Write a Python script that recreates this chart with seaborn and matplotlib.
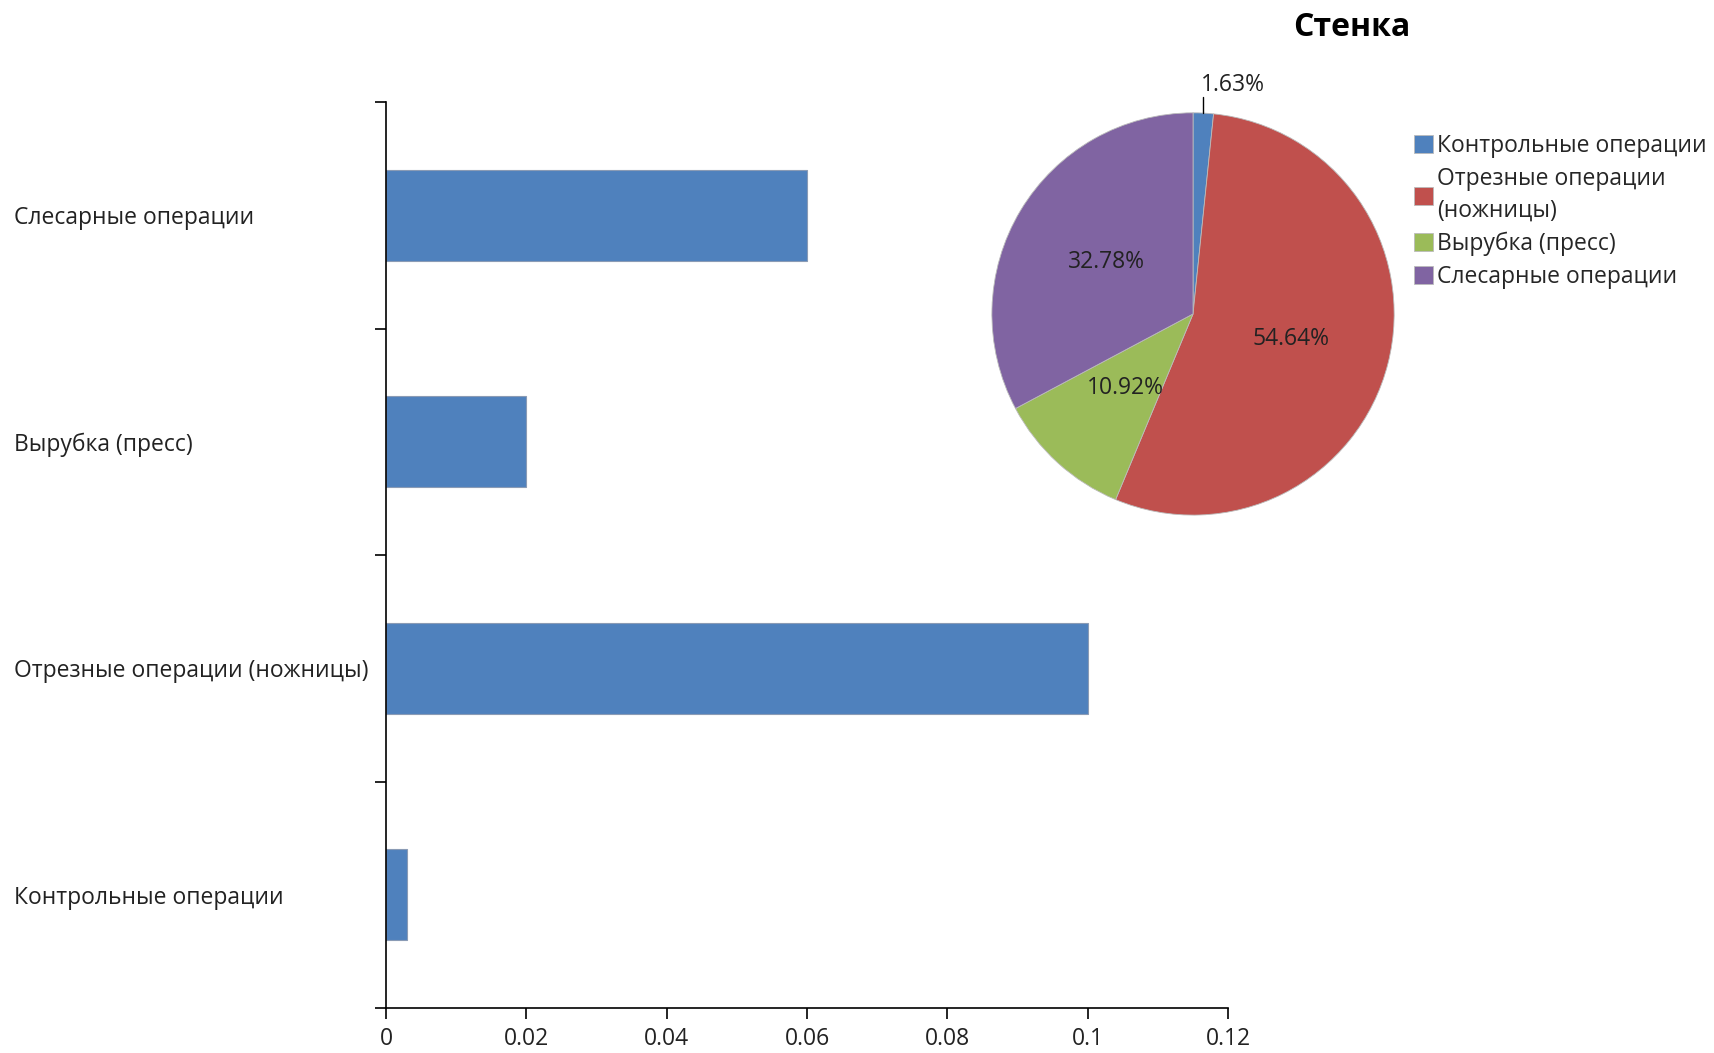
import matplotlib
matplotlib.use("Agg")
import matplotlib.pyplot as plt
import numpy as np
import pandas as pd
import seaborn as sns

# bar chart data (top to bottom)
bar_categories = ["Слесарные операции", "Вырубка (пресс)",
                  "Отрезные операции (ножницы)", "Контрольные операции"]
bar_values = [0.06, 0.02, 0.1, 0.003]
x_ticks = [0, 0.02, 0.04, 0.06, 0.08, 0.1, 0.12]
x_tick_labels = ["0", "0.02", "0.04", "0.06", "0.08", "0.1", "0.12"]

# pie data (clockwise from top)
pie_labels = ["Контрольные операции", "Отрезные операции\n(ножницы)",
              "Вырубка (пресс)", "Слесарные операции"]
pie_shares = [1.63, 54.64, 10.92, 32.78]
pie_colors = ["#4F81BD", "#C0504D", "#9BBB59", "#8064A2"]
title = "Стенка"

sns.set_theme(style="white")
plt.rcParams["font.family"] = ["Open Sans", "DejaVu Sans"]
FS = 16.5

fig = plt.figure(figsize=(17.14, 10.53), dpi=100)
fig.patch.set_facecolor("white")

# ---- bar chart ----
ax = fig.add_axes([0.2252, 0.0427, 0.4913, 0.8604])
df = pd.DataFrame({"cat": bar_categories, "val": bar_values})
sns.barplot(data=df, x="val", y="cat", orient="h", order=bar_categories,
            color="#4F81BD", saturation=1, width=0.4,
            edgecolor="#8a9bb5", linewidth=0.8, ax=ax)
ax.set_xlim(0, 0.12)
ax.set_ylim(len(bar_categories) - 0.5, -0.5)
ax.set_xticks(x_ticks)
ax.set_xticklabels(x_tick_labels, fontsize=FS, color="#222222")
ax.set_yticks(np.arange(-0.5, len(bar_categories)), labels=[""] * (len(bar_categories) + 1))
ax.set_yticks(np.arange(len(bar_categories)), minor=True)
ax.set_yticklabels(bar_categories, minor=True, fontsize=FS, color="#222222", ha="left")
ax.tick_params(axis="y", which="minor", length=0, pad=(386 - 14) * 0.72)
ax.tick_params(axis="y", which="major", direction="out", length=8, width=1.2, color="black", left=True)
ax.tick_params(axis="x", direction="out", length=8, width=1.2, color="black", bottom=True, pad=6)
ax.set_xlabel("")
ax.set_ylabel("")
for s in ["top", "right"]:
    ax.spines[s].set_visible(False)
for s in ["left", "bottom"]:
    ax.spines[s].set_color("black")
    ax.spines[s].set_linewidth(1.2)

# ---- pie chart ----
pax = fig.add_axes([0.5435, 0.4535, 0.3051, 0.4967])
wedges, _ = pax.pie(pie_shares, colors=pie_colors, startangle=90, counterclock=False,
                    wedgeprops=dict(edgecolor="#bbbbbb", linewidth=0.6))
pax.set_xlim(-1.3, 1.3)
pax.set_ylim(-1.3, 1.3)
pax.set_aspect("equal")
pax.axis("off")
for w, share in zip(wedges, pie_shares):
    ang = np.deg2rad((w.theta1 + w.theta2) / 2)
    txt = f"{share:.2f}%"
    if share < 5:
        x0, y0 = np.cos(ang), np.sin(ang)
        pax.plot([x0, x0], [y0, y0 + 0.08], color="black", lw=1)
        pax.text(x0 - 0.01, y0 + 0.14, txt, fontsize=FS, ha="left", va="center", color="#222222")
    else:
        pax.text(0.5 * np.cos(ang), 0.5 * np.sin(ang), txt, fontsize=FS,
                 ha="center", va="center", color="#222222")

leg = fig.legend(wedges, pie_labels, loc="upper left", bbox_to_anchor=(1405 / 1714, 1 - 125 / 1053),
                 frameon=False, fontsize=FS, handlelength=0.8, handleheight=0.8,
                 handletextpad=0.2, labelspacing=0.38, borderaxespad=0)
for t in leg.get_texts():
    t.set_linespacing(1.45)

fig.text(1352 / 1714, 1 - 27 / 1053, title, fontsize=23, fontweight="bold",
         ha="center", va="center", color="black")

fig.savefig("out.png", dpi=100, facecolor="white")
